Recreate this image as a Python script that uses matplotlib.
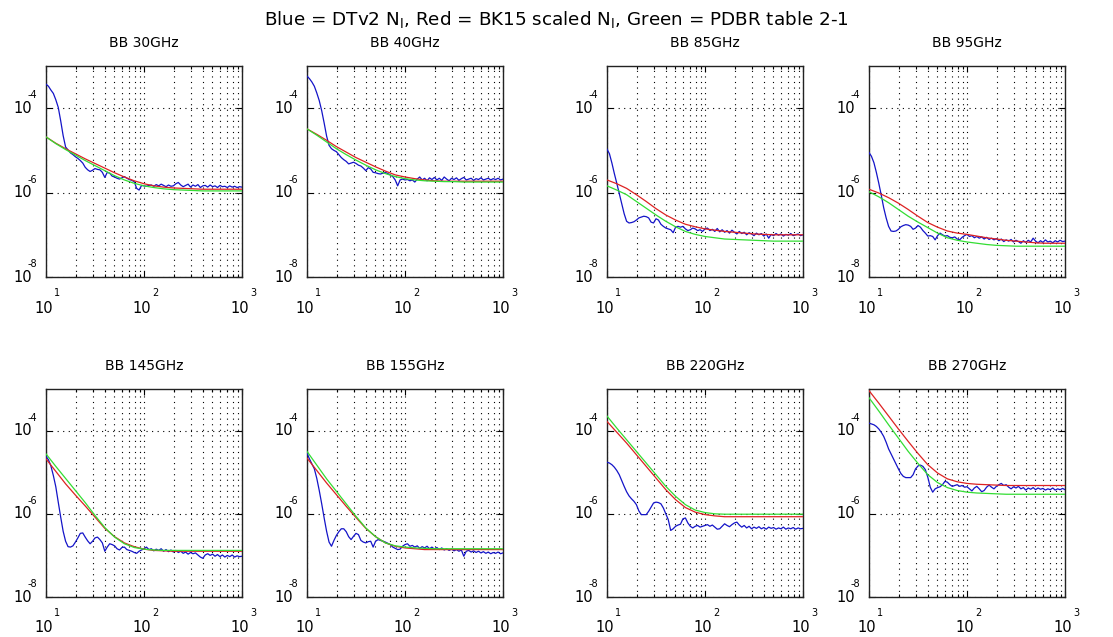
import numpy as np
import matplotlib
matplotlib.use('Agg')
import matplotlib.pyplot as plt
import matplotlib.transforms as mtrans
from matplotlib.ticker import FixedLocator, NullLocator, NullFormatter, LogLocator

plt.rcParams['font.family'] = ['DejaVu Sans']
plt.rcParams['mathtext.fontset'] = 'dejavusans'

SUPTITLE = r'Blue = DTv2 N$_\mathrm{l}$, Red = BK15 scaled N$_\mathrm{l}$, Green = PDBR table 2-1'
TITLES = ['BB 30GHz', 'BB 40GHz', 'BB 85GHz', 'BB 95GHz',
          'BB 145GHz', 'BB 155GHz', 'BB 220GHz', 'BB 270GHz']

# log10(ell) grid of smooth model curves
LOG_ELL_SMOOTH = [1.0, 1.1, 1.2, 1.3, 1.4, 1.5, 1.6, 1.7, 1.8, 1.9, 2.0,
                  2.1, 2.2, 2.3, 2.4, 2.5, 2.6, 2.7, 2.8, 2.9, 3.0]

# log10(ell) grid of the measured (blue) spectra
LOG_ELL_BLUE = [1.000, 1.025, 1.050, 1.075, 1.100, 1.125, 1.150, 1.175, 1.200, 1.225,
                1.250, 1.275, 1.300, 1.325, 1.350, 1.375, 1.400, 1.425, 1.450, 1.475,
                1.500, 1.525, 1.550, 1.575, 1.600, 1.625, 1.650, 1.675, 1.700, 1.725,
                1.750, 1.775, 1.800, 1.825, 1.850, 1.875, 1.900, 1.925, 1.950, 1.975,
                2.000, 2.025, 2.050, 2.075, 2.100, 2.125, 2.150, 2.175, 2.200, 2.225,
                2.250, 2.275, 2.300, 2.325, 2.350, 2.375, 2.400, 2.425, 2.450, 2.475,
                2.500, 2.525, 2.550, 2.575, 2.600, 2.625, 2.650, 2.675, 2.700, 2.725,
                2.750, 2.775, 2.800, 2.825, 2.850, 2.875, 2.900, 2.925, 2.950, 2.975,
                3.000]

# ---- values are log10(N_l) ----
BLUE_30 = [-3.43, -3.48, -3.57, -3.65, -3.80, -3.98, -4.30, -4.65, -4.92, -4.99,
           -5.06, -5.10, -5.15, -5.19, -5.24, -5.30, -5.40, -5.46, -5.50, -5.47,
           -5.43, -5.45, -5.46, -5.52, -5.64, -5.52, -5.54, -5.61, -5.63, -5.66,
           -5.68, -5.65, -5.62, -5.66, -5.69, -5.71, -5.74, -5.90, -5.94, -5.83,
           -5.84, -5.85, -5.83, -5.82, -5.85, -5.81, -5.84, -5.80, -5.83, -5.86,
           -5.82, -5.85, -5.84, -5.79, -5.76, -5.82, -5.86, -5.83, -5.80, -5.87,
           -5.82, -5.85, -5.81, -5.88, -5.84, -5.83, -5.87, -5.82, -5.86, -5.84,
           -5.88, -5.83, -5.86, -5.85, -5.88, -5.84, -5.87, -5.85, -5.88, -5.86,
           -5.87]
RED_30 = [-4.68, -4.83, -4.96, -5.08, -5.20, -5.31, -5.42, -5.53, -5.63, -5.72, -5.79,
          -5.84, -5.87, -5.89, -5.90, -5.91, -5.92, -5.92, -5.92, -5.92, -5.92]
GREEN_30 = [-4.68, -4.84, -4.98, -5.11, -5.24, -5.36, -5.48, -5.60, -5.70, -5.78, -5.84,
            -5.88, -5.91, -5.93, -5.94, -5.95, -5.96, -5.96, -5.96, -5.96, -5.96]

BLUE_40 = [-3.24, -3.30, -3.38, -3.48, -3.64, -3.82, -4.06, -4.35, -4.66, -4.88,
           -4.96, -5.00, -5.03, -5.10, -5.17, -5.22, -5.26, -5.32, -5.30, -5.28,
           -5.31, -5.35, -5.37, -5.42, -5.48, -5.41, -5.44, -5.52, -5.53, -5.55,
           -5.56, -5.54, -5.52, -5.55, -5.58, -5.62, -5.70, -5.84, -5.70, -5.68,
           -5.70, -5.69, -5.72, -5.70, -5.75, -5.68, -5.63, -5.70, -5.66, -5.72,
           -5.65, -5.69, -5.64, -5.70, -5.66, -5.71, -5.63, -5.68, -5.72, -5.66,
           -5.69, -5.65, -5.71, -5.67, -5.64, -5.70, -5.68, -5.66, -5.71, -5.67,
           -5.69, -5.65, -5.70, -5.68, -5.66, -5.70, -5.67, -5.69, -5.66, -5.70,
           -5.68]
RED_40 = [-4.49, -4.62, -4.76, -4.91, -5.04, -5.17, -5.28, -5.39, -5.49, -5.58, -5.63,
          -5.67, -5.70, -5.72, -5.73, -5.73, -5.73, -5.73, -5.73, -5.73, -5.73]
GREEN_40 = [-4.49, -4.64, -4.80, -4.96, -5.10, -5.23, -5.35, -5.46, -5.55, -5.62, -5.67,
            -5.70, -5.72, -5.73, -5.74, -5.74, -5.75, -5.75, -5.75, -5.75, -5.75]

BLUE_85 = [-4.97, -5.08, -5.30, -5.55, -5.78, -6.02, -6.26, -6.50, -6.68, -6.72,
           -6.71, -6.69, -6.65, -6.60, -6.58, -6.56, -6.57, -6.60, -6.70, -6.72,
           -6.62, -6.65, -6.75, -6.80, -6.84, -6.86, -6.88, -6.95, -6.82, -6.80,
           -6.82, -6.80, -6.86, -6.90, -6.88, -6.84, -6.86, -6.90, -6.88, -6.92,
           -6.86, -6.84, -6.90, -6.87, -6.92, -6.85, -6.93, -6.88, -6.94, -6.90,
           -6.96, -6.89, -6.94, -6.98, -6.92, -6.97, -6.94, -7.00, -6.95, -6.98,
           -7.02, -6.96, -7.00, -6.97, -7.03, -6.98, -7.08, -6.99, -7.02, -6.97,
           -7.01, -6.98, -7.03, -6.99, -7.01, -6.97, -7.02, -7.00, -6.98, -7.02,
           -7.00]
RED_85 = [-5.70, -5.79, -5.90, -6.05, -6.21, -6.38, -6.53, -6.65, -6.75, -6.81, -6.86,
          -6.89, -6.92, -6.94, -6.96, -6.98, -6.99, -7.00, -7.00, -7.00, -7.00]
GREEN_85 = [-5.84, -5.94, -6.05, -6.21, -6.37, -6.53, -6.68, -6.81, -6.92, -6.99, -7.04,
            -7.07, -7.10, -7.11, -7.12, -7.13, -7.14, -7.15, -7.15, -7.15, -7.15]

BLUE_95 = [-5.05, -5.14, -5.29, -5.52, -5.78, -6.06, -6.36, -6.60, -6.80, -6.91,
           -6.92, -6.91, -6.87, -6.81, -6.78, -6.76, -6.77, -6.80, -6.87, -6.84,
           -6.78, -6.82, -6.90, -6.96, -7.03, -7.02, -7.04, -7.12, -7.02, -6.96,
           -7.00, -7.03, -7.02, -7.06, -7.07, -7.05, -7.10, -7.12, -7.06, -7.02,
           -6.99, -7.04, -7.02, -7.07, -7.04, -7.08, -7.05, -7.10, -7.06, -7.11,
           -7.08, -7.12, -7.09, -7.14, -7.10, -7.16, -7.12, -7.15, -7.11, -7.17,
           -7.13, -7.16, -7.20, -7.14, -7.18, -7.13, -7.17, -7.08, -7.15, -7.19,
           -7.14, -7.18, -7.12, -7.17, -7.15, -7.19, -7.14, -7.17, -7.13, -7.16,
           -7.15]
RED_95 = [-5.92, -6.01, -6.12, -6.25, -6.40, -6.56, -6.71, -6.82, -6.91, -6.96, -6.99,
          -7.03, -7.07, -7.10, -7.13, -7.15, -7.17, -7.19, -7.20, -7.20, -7.20]
GREEN_95 = [-5.98, -6.10, -6.24, -6.40, -6.56, -6.70, -6.83, -6.96, -7.07, -7.13, -7.17,
            -7.20, -7.23, -7.25, -7.26, -7.27, -7.27, -7.27, -7.27, -7.27, -7.27]

BLUE_145 = [-4.62, -4.70, -4.85, -5.08, -5.35, -5.72, -6.08, -6.42, -6.66, -6.79,
            -6.80, -6.77, -6.68, -6.58, -6.47, -6.46, -6.56, -6.65, -6.72, -6.66,
            -6.58, -6.56, -6.62, -6.70, -6.90, -6.80, -6.72, -6.74, -6.77, -6.84,
            -6.87, -6.81, -6.80, -6.86, -6.88, -6.90, -6.93, -6.95, -6.90, -6.87,
            -6.84, -6.80, -6.86, -6.84, -6.89, -6.85, -6.88, -6.84, -6.90, -6.86,
            -6.91, -6.87, -6.92, -6.88, -6.93, -6.90, -6.95, -6.92, -6.97, -6.93,
            -6.96, -6.94, -6.99, -7.04, -7.07, -6.99, -6.96, -7.00, -6.97, -7.02,
            -6.98, -7.03, -6.99, -7.04, -7.00, -7.03, -6.99, -7.04, -7.01, -7.03,
            -7.02]
RED_145 = [-4.68, -4.98, -5.28, -5.55, -5.81, -6.08, -6.35, -6.55, -6.70, -6.79, -6.85,
           -6.88, -6.89, -6.90, -6.90, -6.90, -6.90, -6.90, -6.90, -6.90, -6.90]
GREEN_145 = [-4.56, -4.86, -5.15, -5.44, -5.73, -6.04, -6.33, -6.56, -6.72, -6.81, -6.85,
             -6.87, -6.88, -6.88, -6.88, -6.88, -6.88, -6.88, -6.88, -6.88, -6.88]

BLUE_155 = [-4.54, -4.68, -4.80, -4.92, -5.15, -5.44, -5.76, -6.10, -6.42, -6.68,
            -6.78, -6.64, -6.52, -6.43, -6.36, -6.36, -6.43, -6.55, -6.62, -6.54,
            -6.47, -6.50, -6.64, -6.68, -6.70, -6.67, -6.66, -6.80, -6.66, -6.62,
            -6.64, -6.66, -6.68, -6.71, -6.74, -6.80, -6.83, -6.86, -6.85, -6.78,
            -6.74, -6.72, -6.78, -6.76, -6.80, -6.77, -6.83, -6.79, -6.82, -6.78,
            -6.84, -6.80, -6.85, -6.81, -6.86, -6.82, -6.87, -6.84, -6.88, -6.85,
            -6.89, -6.86, -6.90, -6.87, -7.02, -6.90, -6.88, -6.92, -6.89, -6.93,
            -6.90, -6.94, -6.91, -6.95, -6.92, -6.96, -6.93, -6.95, -6.92, -6.96,
            -6.94]
RED_155 = [-4.66, -4.96, -5.26, -5.54, -5.82, -6.09, -6.35, -6.55, -6.70, -6.78, -6.82,
           -6.84, -6.86, -6.86, -6.86, -6.86, -6.86, -6.86, -6.86, -6.86, -6.86]
GREEN_155 = [-4.50, -4.83, -5.16, -5.46, -5.76, -6.06, -6.34, -6.55, -6.70, -6.77, -6.80,
             -6.82, -6.83, -6.84, -6.84, -6.84, -6.84, -6.84, -6.84, -6.84, -6.84]

BLUE_220 = [-4.76, -4.78, -4.82, -4.88, -4.96, -5.06, -5.20, -5.34, -5.47, -5.57,
            -5.64, -5.70, -5.78, -5.93, -6.02, -6.02, -6.02, -5.94, -5.84, -5.74,
            -5.72, -5.73, -5.76, -5.86, -6.00, -6.14, -6.40, -6.36, -6.30, -6.27,
            -6.25, -6.12, -6.10, -6.22, -6.30, -6.34, -6.30, -6.28, -6.32, -6.30,
            -6.28, -6.26, -6.30, -6.27, -6.32, -6.37, -6.36, -6.30, -6.24, -6.28,
            -6.31, -6.26, -6.22, -6.20, -6.27, -6.32, -6.28, -6.34, -6.30, -6.36,
            -6.32, -6.35, -6.31, -6.36, -6.33, -6.37, -6.32, -6.35, -6.33, -6.37,
            -6.34, -6.36, -6.32, -6.37, -6.34, -6.36, -6.33, -6.37, -6.34, -6.36,
            -6.35]
RED_220 = [-3.78, -4.04, -4.30, -4.58, -4.86, -5.14, -5.42, -5.66, -5.85, -5.96, -6.02,
           -6.05, -6.07, -6.07, -6.07, -6.07, -6.07, -6.07, -6.07, -6.07, -6.07]
GREEN_220 = [-3.65, -3.94, -4.22, -4.50, -4.78, -5.06, -5.34, -5.58, -5.78, -5.91, -5.97,
             -6.00, -6.01, -6.01, -6.01, -6.01, -6.01, -6.01, -6.01, -6.01, -6.01]

BLUE_270 = [-3.82, -3.84, -3.86, -3.90, -3.96, -4.04, -4.14, -4.28, -4.44, -4.56,
            -4.68, -4.80, -4.92, -5.03, -5.10, -5.13, -5.13, -5.13, -5.06, -4.92,
            -4.85, -4.83, -4.86, -4.94, -5.12, -5.36, -5.48, -5.40, -5.37, -5.35,
            -5.30, -5.22, -5.24, -5.30, -5.34, -5.32, -5.30, -5.34, -5.32, -5.36,
            -5.35, -5.40, -5.45, -5.38, -5.34, -5.40, -5.47, -5.44, -5.36, -5.31,
            -5.36, -5.40, -5.34, -5.30, -5.27, -5.32, -5.30, -5.36, -5.40, -5.35,
            -5.38, -5.34, -5.40, -5.37, -5.43, -5.38, -5.41, -5.37, -5.42, -5.38,
            -5.41, -5.39, -5.43, -5.40, -5.42, -5.38, -5.43, -5.40, -5.42, -5.39,
            -5.42]
RED_270 = [-3.04, -3.34, -3.65, -3.96, -4.26, -4.55, -4.82, -5.02, -5.16, -5.23, -5.27,
           -5.29, -5.30, -5.31, -5.32, -5.32, -5.32, -5.32, -5.32, -5.32, -5.32]
GREEN_270 = [-3.21, -3.53, -3.86, -4.18, -4.50, -4.79, -5.06, -5.25, -5.37, -5.44, -5.48,
             -5.50, -5.51, -5.52, -5.53, -5.53, -5.53, -5.53, -5.53, -5.53, -5.53]

BLUES = [BLUE_30, BLUE_40, BLUE_85, BLUE_95, BLUE_145, BLUE_155, BLUE_220, BLUE_270]
REDS = [RED_30, RED_40, RED_85, RED_95, RED_145, RED_155, RED_220, RED_270]
GREENS = [GREEN_30, GREEN_40, GREEN_85, GREEN_95, GREEN_145, GREEN_155, GREEN_220, GREEN_270]

X_TICKS = [10, 100, 1000]
X_TICK_EXP = ['1', '2', '3']
Y_TICKS = [1e-8, 1e-6, 1e-4]
Y_TICK_EXP = ['-8', '-6', '-4']

W, H = 1113, 637
fig = plt.figure(figsize=(W / 100, H / 100), dpi=100)
fig.patch.set_facecolor('white')

col_left = [46, 307, 607, 869]
col_w = 196
row_tb = [(66, 277), (389, 597)]

ell_s = 10.0 ** np.array(LOG_ELL_SMOOTH)
ell_b = 10.0 ** np.array(LOG_ELL_BLUE)


def px(dx, dy):
    return mtrans.ScaledTranslation(dx / 100.0, dy / 100.0, fig.dpi_scale_trans)


for i in range(8):
    r, c = divmod(i, 4)
    top, bot = row_tb[r]
    ax = fig.add_axes([col_left[c] / W, 1 - bot / H, col_w / W, (bot - top) / H])
    ax.set_xscale('log')
    ax.set_yscale('log')
    ax.plot(ell_b, 10.0 ** np.array(BLUES[i]), color='#1414c8', lw=0.9, zorder=3)
    ax.plot(ell_s, 10.0 ** np.array(REDS[i]), color='#dd2222', lw=0.9, zorder=3)
    ax.plot(ell_s, 10.0 ** np.array(GREENS[i]), color='#33dd33', lw=0.9, zorder=3)
    ax.set_xlim(10, 1000)
    ax.set_ylim(1e-8, 1e-3)
    ax.xaxis.set_major_locator(FixedLocator(X_TICKS))
    ax.xaxis.set_minor_locator(LogLocator(base=10, subs=np.arange(2, 10)))
    ax.xaxis.set_minor_formatter(NullFormatter())
    ax.xaxis.set_major_formatter(NullFormatter())
    ax.yaxis.set_major_locator(FixedLocator(Y_TICKS))
    ax.yaxis.set_minor_locator(NullLocator())
    ax.yaxis.set_major_formatter(NullFormatter())
    ax.tick_params(which='both', direction='in', top=True, right=True, width=0.8)
    ax.tick_params(which='major', length=4)
    ax.tick_params(which='minor', length=2)
    ax.xaxis.grid(True, which='both', color='black', linestyle=(0, (1, 4)), lw=0.8)
    ax.yaxis.grid(True, which='major', color='black', linestyle=(0, (1, 4)), lw=0.8)
    for sp in ax.spines.values():
        sp.set_linewidth(1.0)
        sp.set_color('#222222')
    ax.set_title(TITLES[i], fontsize=10, pad=14)

    # MATLAB-style tick labels: "10" with raised exponent
    xt = ax.get_xaxis_transform()
    for t, e in zip(X_TICKS, X_TICK_EXP):
        ax.text(t, 0, '10', transform=xt + px(-2, -31), ha='center', va='center',
                fontsize=10.5, clip_on=False)
        ax.text(t, 0, e, transform=xt + px(8, -16), ha='left', va='center',
                fontsize=7, clip_on=False)
    yt = ax.get_yaxis_transform()
    for t, e in zip(Y_TICKS, Y_TICK_EXP):
        ax.text(0, t, '10', transform=yt + px(-14, 0), ha='right', va='center',
                fontsize=10.5, clip_on=False)
        ax.text(0, t, e, transform=yt + px(-18, 13), ha='left', va='center',
                fontsize=7, clip_on=False)

fig.text(0.5, 1 - 20 / H, SUPTITLE, ha='center', va='center', fontsize=13.2)

fig.savefig('out.png', dpi=100, facecolor='white')
